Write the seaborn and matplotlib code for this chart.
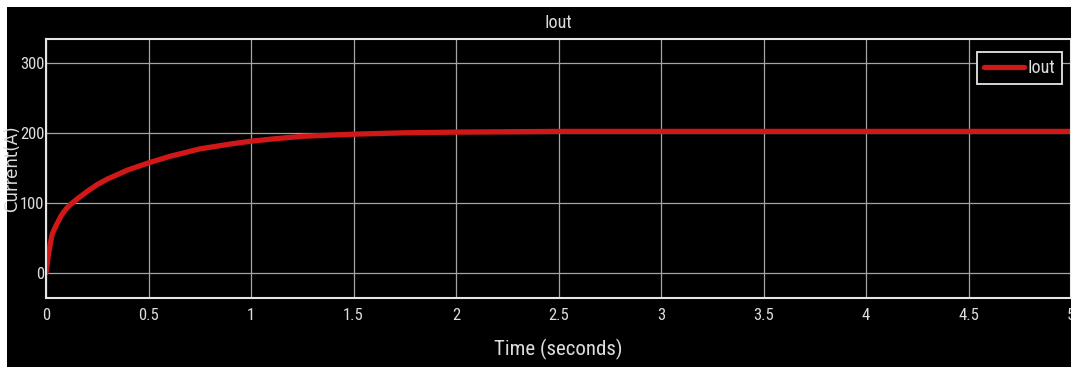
import numpy as np
import pandas as pd
import seaborn as sns
import matplotlib.pyplot as plt
from matplotlib.patches import Rectangle

# values
time_s = [0.0, 0.01, 0.02, 0.03, 0.05, 0.075, 0.1, 0.125, 0.15, 0.2, 0.25, 0.3,
          0.4, 0.5, 0.6, 0.75, 0.9, 1.0, 1.1, 1.25, 1.5, 1.75, 2.0, 2.5,
          3.0, 3.5, 4.0, 4.5, 5.0]
current_a = [0, 22, 40, 55, 68, 82, 92, 99, 105, 116, 126, 134,
             147, 157, 166, 177, 184, 188, 191, 195, 198, 200, 201, 202,
             202, 202, 202, 202, 202]
x_ticks = [0, 0.5, 1, 1.5, 2, 2.5, 3, 3.5, 4, 4.5, 5]
x_labels = ['0', '0.5', '1', '1.5', '2', '2.5', '3', '3.5', '4', '4.5', '5']
y_ticks = [0, 100, 200, 300]

df = pd.DataFrame({'time': time_s, 'current': current_a})

sns.set_theme(style='dark')
narrow = ['Roboto Condensed', 'Archivo Narrow', 'DejaVu Sans']
plt.rcParams['font.family'] = narrow

fig = plt.figure(figsize=(10.71, 3.74), dpi=100, facecolor='white')
bg = Rectangle((7 / 1071, 7 / 374), 1 - 7 / 1071, 1 - 14 / 374,
               transform=fig.transFigure, facecolor='black',
               edgecolor='none', zorder=-10)
fig.patches.append(bg)
ax = fig.add_axes([46 / 1071, 1 - 298 / 374, 1 - 46 / 1071, (298 - 39) / 374])
ax.set_facecolor('black')

sns.lineplot(data=df, x='time', y='current', ax=ax, color='#d11818',
             linewidth=3.8, label='Iout')

ax.set_xlim(0, 5)
ax.set_ylim(-36, 334)
ax.set_xticks(x_ticks)
ax.set_xticklabels(x_labels)
ax.set_yticks(y_ticks)
ax.grid(True, color='#a4a4a4', linewidth=0.9)
for s in ax.spines.values():
    s.set_color('#e6e6e6')
    s.set_linewidth(1.5)
ax.tick_params(axis='both', direction='in', length=7, width=1.5,
               colors='#e6e6e6', labelcolor='#dddddd', labelsize=12)
ax.tick_params(axis='x', pad=7)
ax.tick_params(axis='y', pad=1)

ax.set_title('Iout', color='#dddddd', fontsize=13, pad=8)
ax.set_xlabel('Time (seconds)', color='#dddddd', fontsize=15, labelpad=12)
ax.set_ylabel('Current(A)', color='#dddddd', fontsize=12,
              family=['DejaVu Sans'])
ax.yaxis.set_label_coords(-25 / 1025, 0.5)

leg = ax.legend(loc='upper right', bbox_to_anchor=(0.9912, 0.95),
                frameon=True, fancybox=False, fontsize=13,
                handlelength=2.2, borderpad=0.4, handletextpad=0.2,
                borderaxespad=0)
leg.get_frame().set_facecolor('black')
leg.get_frame().set_edgecolor('#e6e6e6')
leg.get_frame().set_linewidth(1.3)
leg.get_frame().set_alpha(1)
for t in leg.get_texts():
    t.set_color('#dddddd')

fig.savefig('out.png', dpi=100, facecolor=fig.get_facecolor())
